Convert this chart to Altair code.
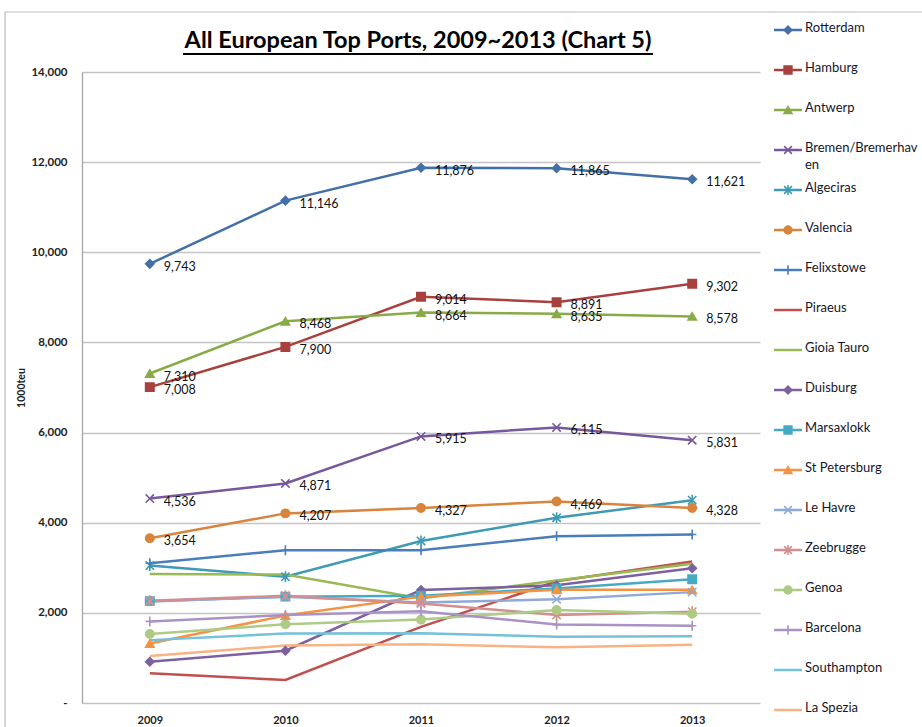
import altair as alt
import pandas as pd

# Container throughput (1000 TEU) of the top European ports
years = ["2009", "2010", "2011", "2012", "2013"]

ports = [
    "Rotterdam", "Hamburg", "Antwerp", "Bremen/Bremerhaven", "Algeciras",
    "Valencia", "Felixstowe", "Piraeus", "Gioia Tauro", "Duisburg",
    "Marsaxlokk", "St Petersburg", "Le Havre", "Zeebrugge", "Genoa",
    "Barcelona", "Southampton", "La Spezia",
]

rotterdam = [9743, 11146, 11876, 11865, 11621]
hamburg = [7008, 7900, 9014, 8891, 9302]
antwerp = [7310, 8468, 8664, 8635, 8578]
bremen = [4536, 4871, 5915, 6115, 5831]
algeciras = [3050, 2800, 3595, 4110, 4500]
valencia = [3654, 4207, 4327, 4469, 4328]
felixstowe = [3100, 3390, 3390, 3700, 3740]
piraeus = [660, 510, 1690, 2700, 3140]
gioia_tauro = [2860, 2850, 2320, 2720, 3090]
duisburg = [916, 1160, 2505, 2610, 2990]
marsaxlokk = [2260, 2360, 2380, 2540, 2745]
st_petersburg = [1320, 1940, 2360, 2510, 2510]
le_havre = [2250, 2360, 2230, 2300, 2460]
zeebrugge = [2270, 2380, 2210, 1955, 2025]
genoa = [1530, 1745, 1850, 2062, 1980]
barcelona = [1810, 1950, 2035, 1740, 1715]
southampton = [1395, 1540, 1550, 1470, 1480]
la_spezia = [1045, 1275, 1305, 1235, 1290]

series = [
    rotterdam, hamburg, antwerp, bremen, algeciras, valencia, felixstowe,
    piraeus, gioia_tauro, duisburg, marsaxlokk, st_petersburg, le_havre,
    zeebrugge, genoa, barcelona, southampton, la_spezia,
]

# Only the five largest ports carry value labels
labeled = ["Rotterdam", "Hamburg", "Antwerp", "Bremen/Bremerhaven", "Valencia"]

colors = [
    "#4470A8", "#A8403E", "#88AB48", "#76599A", "#3F9AB3", "#D8843C",
    "#4A7EBB", "#C0504D", "#98B954", "#7D60A0", "#46AAC5", "#F39343",
    "#8FAAD6", "#D48E8D", "#AECB85", "#A893C4", "#74C2DA", "#F8B283",
]

X_PATH = "M-1,-1L1,1M-1,1L1,-1"
STAR_PATH = "M-1,-1L1,1M-1,1L1,-1M0,-1.3L0,1.3"
PLUS_PATH = "M0,-1.2L0,1.2M-1,0L1,0"

marker_of = {
    "Rotterdam": "diamond", "Hamburg": "square", "Antwerp": "triangle-up",
    "Bremen/Bremerhaven": X_PATH, "Algeciras": STAR_PATH, "Valencia": "circle",
    "Felixstowe": PLUS_PATH, "Duisburg": "diamond", "Marsaxlokk": "square",
    "St Petersburg": "triangle-up", "Le Havre": X_PATH, "Zeebrugge": STAR_PATH,
    "Genoa": "circle", "Barcelona": PLUS_PATH,
}
marker_ports = [p for p in ports if p in marker_of]
marker_shapes = [marker_of[p] for p in marker_ports]

rows = []
for port, vals in zip(ports, series):
    for yr, v in zip(years, vals):
        rows.append({"port": port, "year": yr, "value": v})
df = pd.DataFrame(rows)

legend_df = pd.DataFrame({
    "port": ports,
    "idx": list(range(len(ports))),
    "label": [p if len(p) <= 16 else p[:16] + "\n" + p[16:] for p in ports],
})

FONT = "Lato"
color_scale = alt.Scale(domain=ports, range=colors)
shape_scale = alt.Scale(domain=marker_ports, range=marker_shapes)

x_enc = alt.X(
    "year:O",
    scale=alt.Scale(type="point", padding=0.5, domain=years),
    axis=alt.Axis(
        title=None, labelAngle=0, ticks=False, domain=False,
        labelFont=FONT, labelFontSize=11, labelFontWeight="bold",
        labelColor="#222222", labelPadding=11,
    ),
)
y_enc = alt.Y(
    "value:Q",
    scale=alt.Scale(domain=[0, 14000], nice=False, zero=True),
    axis=alt.Axis(
        values=list(range(0, 14001, 2000)),
        labelExpr="datum.value == 0 ? '-' : format(datum.value, ',')",
        grid=True, gridColor="#C4C4C4", gridWidth=1.3,
        domain=True, domainColor="#A6A6A6", domainWidth=1.3,
        ticks=False, labelFont=FONT, labelFontSize=11.5, labelFontWeight="bold",
        labelColor="#222222", labelPadding=15,
        title="1000teu", titleFont=FONT, titleFontSize=10.5,
        titleFontWeight="bold", titleColor="#222222", titlePadding=4,
    ),
)

base = alt.Chart(df)

lines = base.mark_line(strokeWidth=2.5).encode(
    x=x_enc, y=y_enc,
    color=alt.Color("port:N", scale=color_scale, legend=None),
    detail="port:N",
)

points = base.transform_filter(
    alt.FieldOneOfPredicate(field="port", oneOf=marker_ports)
).mark_point(size=70, strokeWidth=1.6, opacity=1).encode(
    x="year:O", y="value:Q",
    shape=alt.Shape("port:N", scale=shape_scale, legend=None),
    fill=alt.Fill("port:N", scale=color_scale, legend=None),
    stroke=alt.Stroke("port:N", scale=color_scale, legend=None),
)

labels = base.transform_filter(
    alt.FieldOneOfPredicate(field="port", oneOf=labeled)
).mark_text(
    align="left", baseline="middle", dx=14, dy=3,
    font=FONT, fontSize=12.5, color="#111111",
).encode(
    x="year:O", y="value:Q",
    text=alt.Text("value:Q", format=","),
)

title_df = pd.DataFrame({"t": ["All European Top Ports, 2009~2013 (Chart 5)"]})
title = alt.Chart(title_df).mark_text(
    align="center", baseline="middle", font=FONT, fontSize=23.5,
    fontWeight="bold", color="#000000",
).encode(text="t:N", x=alt.value(336), y=alt.value(-31))

underline = alt.Chart(title_df).mark_rule(color="#000000", strokeWidth=1.8).encode(
    x=alt.value(101), x2=alt.value(571), y=alt.value(-18)
)

frame = alt.Chart(title_df).mark_rect(
    fill=None, stroke="#BDBDBD", strokeWidth=1.2
).encode(
    x=alt.value(-77), x2=alt.value(900), y=alt.value(-60), y2=alt.value(700)
)

main = alt.layer(frame, lines, points, labels, title, underline)

legend_y = alt.Y(
    "idx:Q", scale=alt.Scale(domain=[0, len(ports) - 1], range=[-42, 638]),
    axis=None,
)
leg_base = alt.Chart(legend_df)
leg_lines = leg_base.mark_rule(strokeWidth=2.5).encode(
    x=alt.value(692), x2=alt.value(720), y=legend_y,
    color=alt.Color("port:N", scale=color_scale, legend=None),
)
leg_points = leg_base.transform_filter(
    alt.FieldOneOfPredicate(field="port", oneOf=marker_ports)
).mark_point(size=60, strokeWidth=1.6, opacity=1).encode(
    x=alt.value(706), y=legend_y,
    shape=alt.Shape("port:N", scale=shape_scale, legend=None),
    fill=alt.Fill("port:N", scale=color_scale, legend=None),
    stroke=alt.Stroke("port:N", scale=color_scale, legend=None),
)
leg_text = leg_base.mark_text(
    align="left", baseline="top", dy=-8, lineBreak="\n", lineHeight=17,
    font=FONT, fontSize=13, color="#16162A",
).encode(x=alt.value(723), y=legend_y, text="label:N")

legend = alt.layer(leg_lines, leg_points, leg_text)

chart = alt.layer(main, legend).resolve_scale(y="independent").properties(
    width=678,
    height=631,
    padding={"left": 82, "top": 72, "right": 162, "bottom": 24},
    autosize=alt.AutoSizeParams(type="none"),
    background="white",
).configure_view(stroke=None)

chart.save("out.html", embed_options={"renderer": "svg", "actions": False})
